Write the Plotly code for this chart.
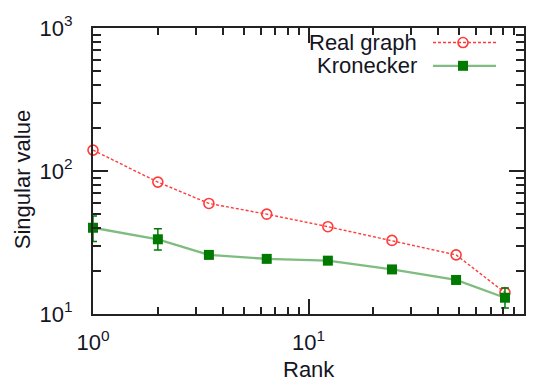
import plotly.graph_objects as go

# Singular values by rank (log-log)
rank = [1, 2, 3.45, 6.4, 12.3, 24.4, 48.4, 81.6]
real_graph = [140, 83.6, 59.3, 49.9, 40.8, 32.7, 25.9, 14.1]
kronecker = [40.1, 33.3, 25.9, 24.3, 23.6, 20.5, 17.3, 13.0]
kron_err_plus = [8.3, 6.2, 0, 0, 0, 0, 0, 2.2]
kron_err_minus = [7.9, 5.3, 0, 0, 0, 0, 0, 2.0]

x_tick_vals = [1, 10, 100]
x_tick_text = ["10<sup>0</sup>", "10<sup>1</sup>", "10<sup>2</sup>"]
y_tick_vals = [10, 100, 1000]
y_tick_text = ["10<sup>1</sup>", "10<sup>2</sup>", "10<sup>3</sup>"]
minor_x = [2, 3, 4, 5, 6, 7, 8, 9, 20, 30, 40, 50, 60, 70, 80, 90]
minor_y = [20, 30, 40, 50, 60, 70, 80, 90, 200, 300, 400, 500, 600, 700, 800, 900]

series_names = ["Real graph", "Kronecker"]

RED = "#ff3b3b"
GREEN = "#007a00"
GREEN_LINE = "rgba(0,122,0,0.5)"
TEXT = "#15151f"
FONT = "Liberation Sans, Arial, sans-serif"
FS = 22

W, H = 539, 383
L, R, T, B = 93, 15, 19, 69
PW, PH = W - L - R, H - T - B


def px(xp):
    return (xp - L) / PW


def py(yp):
    return (H - B - yp) / PH


fig = go.Figure()

fig.add_trace(go.Scatter(
    x=rank, y=real_graph, mode="lines+markers", name=series_names[0],
    line=dict(color=RED, width=1.4, dash="3px,2px"),
    marker=dict(symbol="circle-open", size=10, color=RED, line=dict(width=1.6, color=RED)),
    showlegend=False, cliponaxis=False,
))

fig.add_trace(go.Scatter(
    x=rank, y=kronecker, mode="lines+markers", name=series_names[1],
    line=dict(color=GREEN_LINE, width=2.3),
    marker=dict(symbol="square", size=10, color=GREEN),
    error_y=dict(type="data", array=kron_err_plus, arrayminus=kron_err_minus,
                 color=GREEN, thickness=1.5, width=4, symmetric=False),
    showlegend=False, cliponaxis=False,
))

axis_common = dict(
    type="log", showgrid=False, zeroline=False,
    showline=True, linecolor="#222", linewidth=2, mirror="ticks",
    ticks="inside", ticklen=15, tickwidth=1.6, tickcolor="#222",
    tickfont=dict(family=FONT, size=FS, color=TEXT),
)

fig.update_xaxes(
    **axis_common, range=[0, 2],
    tickvals=x_tick_vals, ticktext=x_tick_text, ticklabelstandoff=8,
    minor=dict(ticks="inside", ticklen=7, tickwidth=1.6, tickcolor="#222", tickvals=minor_x),
)
fig.update_yaxes(
    **axis_common, range=[1, 3],
    tickvals=y_tick_vals, ticktext=y_tick_text, ticklabelstandoff=14,
    minor=dict(ticks="inside", ticklen=8, tickwidth=1.6, tickcolor="#222", tickvals=minor_y),
)

annotations = [
    dict(text="Rank", xref="paper", yref="paper", x=px(308.5), y=py(371),
         xanchor="center", yanchor="middle", showarrow=False,
         font=dict(family=FONT, size=FS, color=TEXT)),
    dict(text="Singular value", xref="paper", yref="paper", x=px(22), y=py(176),
         xanchor="center", yanchor="middle", textangle=-90, showarrow=False,
         font=dict(family=FONT, size=FS, color=TEXT)),
]

# hand-built legend: label on the left, sample on the right
legend_rows = [(series_names[0], 34), (series_names[1], 58)]
for name, yy in legend_rows:
    annotations.append(dict(
        text=name, xref="paper", yref="paper", x=px(419), y=py(yy),
        xanchor="right", yanchor="middle", showarrow=False,
        font=dict(family=FONT, size=FS, color=TEXT)))

shapes = [
    dict(type="line", xref="paper", yref="paper", x0=px(433), x1=px(496),
         y0=py(34), y1=py(34), line=dict(color=RED, width=1.4, dash="3px,2px")),
    dict(type="circle", xref="paper", yref="paper", xsizemode="pixel", ysizemode="pixel",
         xanchor=px(463), yanchor=py(34), x0=-5, x1=5, y0=-5, y1=5,
         line=dict(color=RED, width=1.6)),
    dict(type="line", xref="paper", yref="paper", x0=px(433), x1=px(496),
         y0=py(58), y1=py(58), line=dict(color=GREEN_LINE, width=2.3)),
    dict(type="rect", xref="paper", yref="paper", xsizemode="pixel", ysizemode="pixel",
         xanchor=px(463), yanchor=py(58), x0=-5, x1=5, y0=-5, y1=5,
         line=dict(width=0), fillcolor=GREEN),
]

fig.update_layout(
    width=W, height=H,
    margin=dict(l=L, r=R, t=T, b=B),
    paper_bgcolor="white", plot_bgcolor="white",
    annotations=annotations, shapes=shapes,
    font=dict(family=FONT, color=TEXT),
)

fig.write_html("out.html")
